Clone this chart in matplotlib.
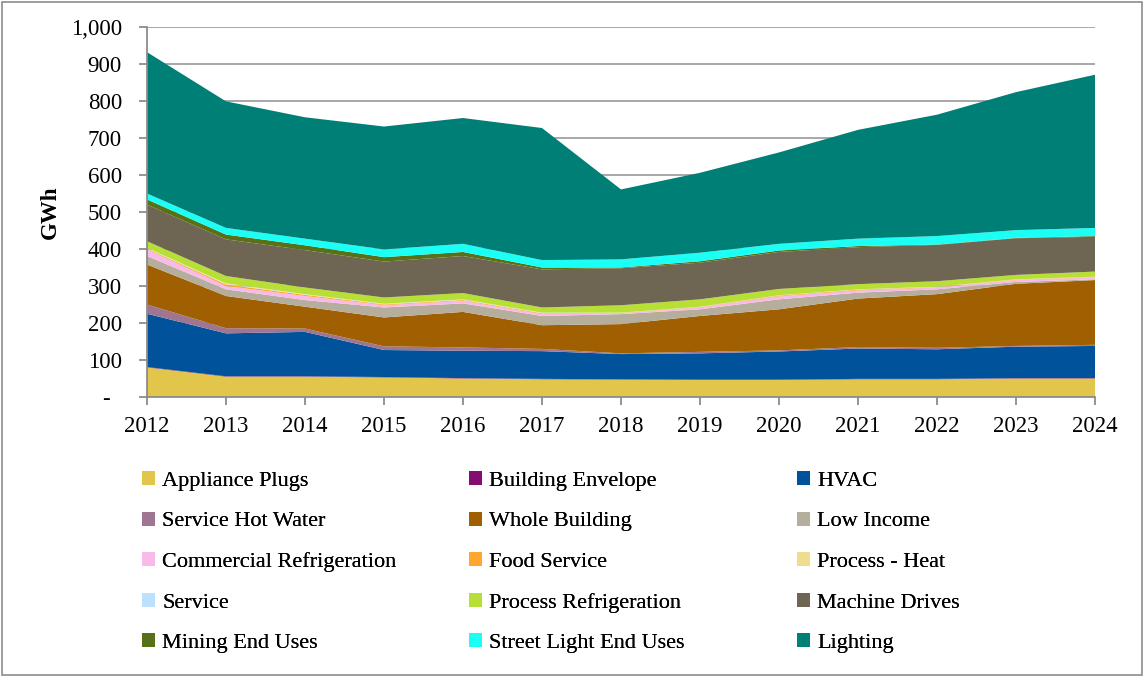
import matplotlib
matplotlib.use("Agg")
import matplotlib.pyplot as plt
from matplotlib.patches import Rectangle, Patch
from matplotlib.ticker import FuncFormatter, MultipleLocator

years = [2012, 2013, 2014, 2015, 2016, 2017, 2018, 2019, 2020, 2021, 2022, 2023, 2024]

appliance_plugs = [80, 55, 55, 53, 50, 48, 47, 46, 46, 48, 48, 50, 50]
building_envelope = [1, 1, 1, 1, 1, 1, 1, 1, 1, 1, 1, 1, 1]
hvac = [144, 116, 120, 73, 74, 75, 68, 71, 76, 82, 80, 85, 87]
service_hot_water = [25, 14, 9, 10, 9, 6, 2, 4, 3, 4, 4, 2, 3]
whole_building = [108, 87, 59, 78, 96, 64, 79, 97, 111, 131, 145, 168, 175]
low_income = [23, 18, 18, 27, 23, 25, 27, 18, 27, 16, 13, 5, 2]
commercial_refrigeration = [18, 9, 11, 6, 7, 5, 2, 5, 8, 6, 5, 5, 5]
food_service = [2, 4, 3, 2, 2, 2, 1, 1, 2, 2, 1, 1, 1]
process_heat = [1, 2, 1, 1, 1, 1, 0.5, 0.5, 0.5, 0.5, 0.5, 0.5, 0.5]
service = [1, 1, 1, 1, 1, 1, 0.5, 0.5, 0.5, 0.5, 0.5, 0.5, 0.5]
process_refrigeration = [18, 20, 18, 17, 17, 14, 20, 20, 17, 14, 15, 12, 14]
machine_drives = [99, 99, 101, 97, 100, 103, 100, 99, 100, 100, 98, 99, 94]
mining_end_uses = [14, 13, 13, 12, 11, 5, 2, 4, 4, 3, 1, 1, 2]
street_light = [16, 18, 18, 21, 22, 20, 22, 23, 18, 20, 23, 21, 22]
lighting = [382, 342, 328, 332, 340, 357, 189, 216, 247, 294, 328, 373, 414]

labels = ["Appliance Plugs", "Building Envelope", "HVAC", "Service Hot Water",
          "Whole Building", "Low Income", "Commercial Refrigeration", "Food Service",
          "Process - Heat", "Service", "Process Refrigeration", "Machine Drives",
          "Mining End Uses", "Street Light End Uses", "Lighting"]
series = [appliance_plugs, building_envelope, hvac, service_hot_water, whole_building,
          low_income, commercial_refrigeration, food_service, process_heat, service,
          process_refrigeration, machine_drives, mining_end_uses, street_light, lighting]
colors = ["#E2C54B", "#850C70", "#00529B", "#9E7692", "#A05F00", "#B6AE9C",
          "#F9B9E9", "#FFA62F", "#EFDC8F", "#BDE0FC", "#B8DF35", "#6E6652",
          "#587117", "#1BFFF5", "#007F77"]

plt.rcParams['font.family'] = ['Liberation Serif', 'DejaVu Serif']

W, H = 1144, 677
fig = plt.figure(figsize=(W / 100, H / 100), dpi=100)
fig.patches.append(Rectangle((2 / W, 2 / H), 1 - 4 / W, 1 - 4 / H, transform=fig.transFigure,
                             fill=False, edgecolor="#8c8c8c", linewidth=1.2))

ax = fig.add_axes([147 / W, 1 - 397 / H, (1095 - 147) / W, (397 - 27) / H])
ax.stackplot(years, *series, colors=colors, labels=labels, linewidth=0)

ax.set_xlim(2012, 2024)
ax.set_ylim(0, 1000)
ax.set_xticks(years)
ax.yaxis.set_major_locator(MultipleLocator(100))
ax.yaxis.set_major_formatter(FuncFormatter(lambda v, p: "-  " if v == 0 else f"{int(v):,}"))
ax.grid(axis='y', color="#a0a0a0", linewidth=1.3, zorder=0)
ax.set_axisbelow(True)
for s in ["top", "right"]:
    ax.spines[s].set_visible(False)
for s in ["left", "bottom"]:
    ax.spines[s].set_color("#8c8c8c")
    ax.spines[s].set_linewidth(1.3)
ax.tick_params(axis='both', colors="#8c8c8c", length=6, width=1.3, labelsize=16.5,
               labelcolor="black")
ax.tick_params(axis='y', pad=12)
ax.tick_params(axis='x', pad=8)
ax.set_ylabel("GWh", fontsize=16.5, fontweight="bold", labelpad=7)

handles = [Patch(facecolor=c, edgecolor='none') for c in colors]
col_x = [142, 469, 797]
for ci in range(3):
    idx = [ci + 3 * r for r in range(5)]
    leg = fig.legend([handles[i] for i in idx], [labels[i] for i in idx],
                     loc="upper left", bbox_to_anchor=(col_x[ci] / W, 1 - 471 / H),
                     frameon=False, fontsize=16, handlelength=0.6, handleheight=0.6,
                     handletextpad=0.3, labelspacing=0.93, borderaxespad=0, borderpad=0)
    fig.add_artist(leg)

fig.savefig("out.png", dpi=100)
